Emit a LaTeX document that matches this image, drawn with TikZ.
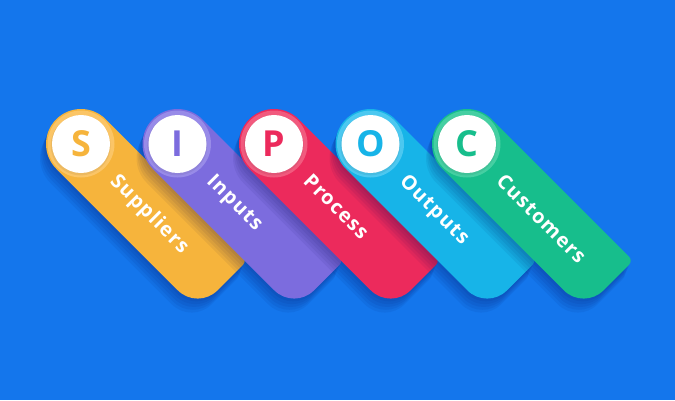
\documentclass[tikz,border=0pt]{standalone}
\usepackage{fontspec}
\setmainfont{Open Sans}
\definecolor{bg}{HTML}{1476EC}
\definecolor{cy}{HTML}{F6B43C}\definecolor{ry}{HTML}{FBC566}
\definecolor{cp}{HTML}{7C6CDE}\definecolor{rp}{HTML}{988BE8}
\definecolor{cr}{HTML}{EC2A5C}\definecolor{rr}{HTML}{F15A7E}
\definecolor{cc}{HTML}{17B4E8}\definecolor{rc}{HTML}{4CC8F0}
\definecolor{cg}{HTML}{17BE8C}\definecolor{rg}{HTML}{45CFA2}
\tikzset{
  lettertext/.style={font=\fontsize{36}{36}\selectfont\bfseries},
  labeltext/.style={font=\fontsize{20}{20}\selectfont\bfseries\addfontfeature{LetterSpace=6}, text=white, anchor=base west, rotate=-45, inner sep=0pt},
}
\begin{document}
\begin{tikzpicture}[x=1bp,y=1bp]
\useasboundingbox (0,0) rectangle (675,-400);
\fill[bg] (0,0) rectangle (675,-400);
\foreach \nm/\px/\col/\ring/\ltr/\lbl in {s/81/cy/ry/S/Suppliers, i/177.5/cp/rp/I/Inputs, p/274/cr/rr/P/Process, o/370.5/cc/rc/O/Outputs, c/467/cg/rg/C/Customers}{
  % soft shadow
  \foreach \k in {1,2,3,4,5}{
    \begin{scope}[shift={(\px-1.2*\k,-144-2.8*\k)}, rotate=-45]
      \fill[black!70!blue, opacity=0.06] (0,35) -- (194,35) arc[start angle=90,end angle=0,radius=6] -- (200,-7) arc[start angle=0,end angle=-90,radius=28] -- (0,-35) arc[start angle=-90,end angle=-270,radius=35] -- cycle;
    \end{scope}
  }
  \begin{scope}[shift={(\px,-144)}, rotate=-45]
    \fill[\col] (0,35) -- (194,35) arc[start angle=90,end angle=0,radius=6] -- (200,-7) arc[start angle=0,end angle=-90,radius=28] -- (0,-35) arc[start angle=-90,end angle=-270,radius=35] -- cycle;
    \fill[\ring] (0,0) circle[radius=33.5];
    \fill[black, opacity=0.06] (0.8,-1.2) circle[radius=30];
    \fill[white] (0,0) circle[radius=29];
    \node[labeltext] (\nm-label) at (47,-7) {\lbl};
  \end{scope}
  \node[lettertext, text=\col] (\nm-letter) at (\px,-144) {\ltr};
}
\end{tikzpicture}
\end{document}
